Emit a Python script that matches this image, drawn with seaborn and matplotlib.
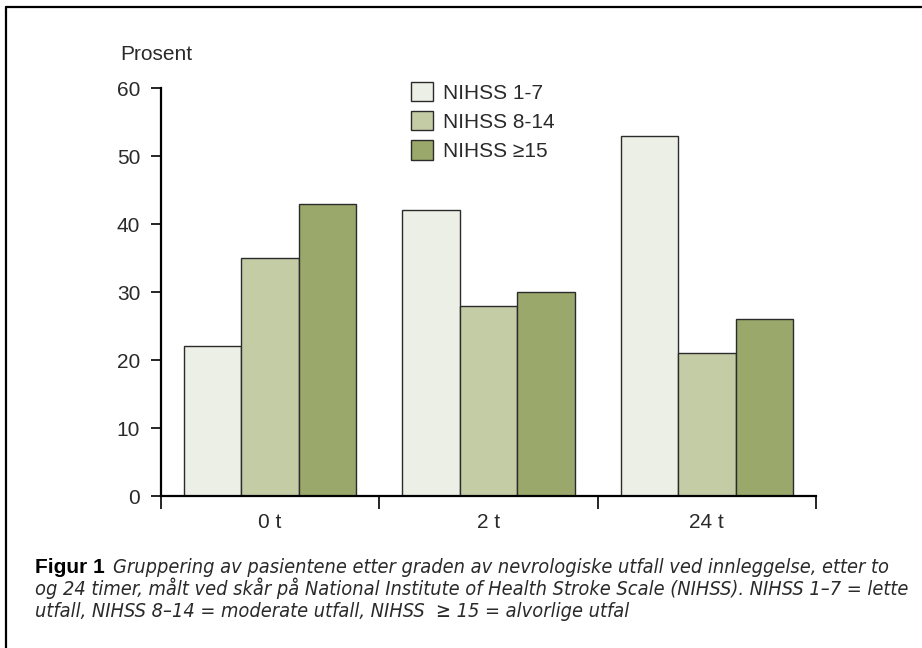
import matplotlib
matplotlib.use("Agg")
import matplotlib.pyplot as plt
from matplotlib.lines import Line2D
import seaborn as sns
import pandas as pd

# Data
timepoints = ["0 t", "2 t", "24 t"]
groups = ["NIHSS 1-7", "NIHSS 8-14", "NIHSS \u226515"]
nihss_1_7 = [22, 42, 53]
nihss_8_14 = [35, 28, 21]
nihss_15 = [43, 30, 26]
yticks = [0, 10, 20, 30, 40, 50, 60]

df = pd.DataFrame({
    "tid": timepoints * 3,
    "gruppe": [g for g in groups for _ in timepoints],
    "prosent": nihss_1_7 + nihss_8_14 + nihss_15,
})

colors = ["#ECEFE5", "#C4CCA5", "#9BA86B"]
txt = "#2a2a2a"
fs = 15

sns.set_style("white")
plt.rcParams["font.family"] = ["Liberation Sans", "DejaVu Sans"]

fig = plt.figure(figsize=(9.22, 6.48), dpi=100)
W, H = 922, 648
ax = fig.add_axes([161 / W, 1 - 496 / H, (816 - 161) / W, (496 - 88) / H])

sns.barplot(data=df, x="tid", y="prosent", hue="gruppe", hue_order=groups,
            order=timepoints, palette=colors, width=0.79, ax=ax,
            edgecolor="#2b2b2b", linewidth=1.0, saturation=1, errorbar=None)

ax.set_xlim(-0.5, 2.5)
ax.set_ylim(0, 60)
ax.set_yticks(yticks)
ax.set_yticklabels([str(t) for t in yticks], fontsize=fs, color=txt)
ax.tick_params(axis="y", direction="out", length=7, width=1.2, color="black", pad=8, left=True)

# category boundaries as ticks, labels centred between them
ax.set_xticks([-0.5, 0.5, 1.5, 2.5])
ax.set_xticklabels([])
ax.set_xticks([0, 1, 2], minor=True)
ax.set_xticklabels(timepoints, minor=True, fontsize=fs, color=txt)
ax.tick_params(axis="x", which="major", direction="out", length=9, width=1.2, color="black", bottom=True)
ax.tick_params(axis="x", which="minor", length=0, pad=12)

for s in ["top", "right"]:
    ax.spines[s].set_visible(False)
for s in ["left", "bottom"]:
    ax.spines[s].set_linewidth(1.6)
    ax.spines[s].set_color("black")

ax.set_xlabel("")
ax.set_ylabel("")
fig.text(120 / W, 1 - 54 / H, "Prosent", fontsize=fs, color=txt, va="center", ha="left")

handles, labels = ax.get_legend_handles_labels()
ax.legend(handles, labels, loc="upper left", bbox_to_anchor=(411 / W, 1 - 82 / H),
          bbox_transform=fig.transFigure, frameon=False, fontsize=fs,
          handlelength=1.05, handleheight=1.05, handletextpad=0.5,
          labelspacing=0.4, borderpad=0, borderaxespad=0)
for t in ax.get_legend().get_texts():
    t.set_color(txt)

# Caption
fig.canvas.draw()
renderer = fig.canvas.get_renderer()
bold = fig.text(35 / W, 1 - 573 / H, "Figur 1", fontsize=15, fontweight="bold",
                color="black", va="baseline", ha="left")
bb = bold.get_window_extent(renderer=renderer)
cap_kw = dict(fontsize=14.3, style="italic", color=txt, va="baseline", ha="left",
              family=["DejaVu Sans"], stretch="condensed")
fig.text((bb.x1 + 8) / W, 1 - 573 / H,
         "Gruppering av pasientene etter graden av nevrologiske utfall ved innleggelse, etter to",
         **cap_kw)
fig.text(35 / W, 1 - 595 / H,
         "og 24 timer, målt ved skår på National Institute of Health Stroke Scale (NIHSS). NIHSS 1\u20137 = lette",
         **cap_kw)
fig.text(35 / W, 1 - 617 / H,
         "utfall, NIHSS 8\u201314 = moderate utfall, NIHSS  \u2265 15 = alvorlige utfal",
         **cap_kw)

# Frame lines along the top and left edges
fig.add_artist(Line2D([6 / W, 6 / W], [0, 1 - 7 / H], transform=fig.transFigure,
                      color="black", linewidth=1.6))
fig.add_artist(Line2D([6 / W, 1], [1 - 7 / H, 1 - 7 / H], transform=fig.transFigure,
                      color="black", linewidth=1.6))

fig.savefig("out.png", dpi=100, facecolor="white")
